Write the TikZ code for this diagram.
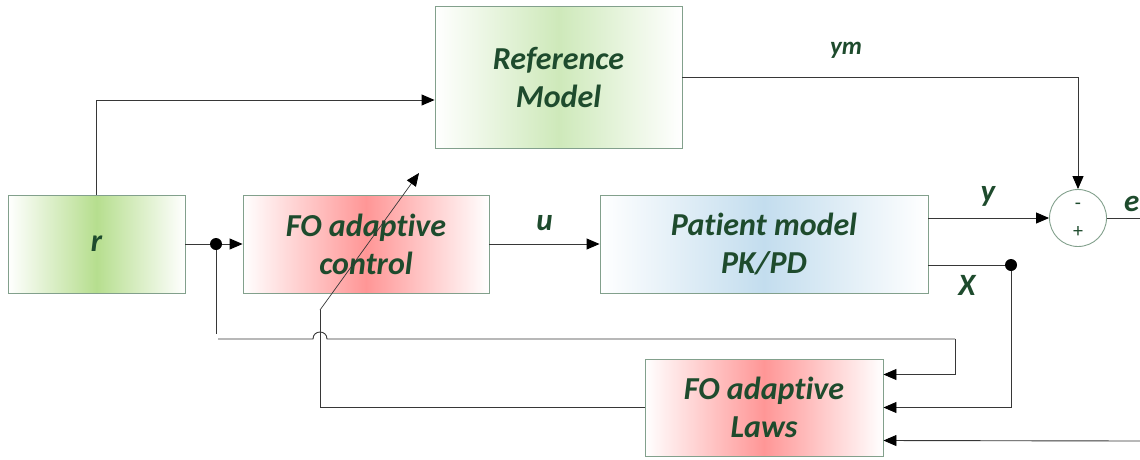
\documentclass[tikz,border=0pt]{standalone}
\usepackage{fontspec}
\setmainfont[Ligatures={NoCommon}]{Carlito}
\usetikzlibrary{arrows.meta,calc}
\definecolor{txtgreen}{RGB}{30,75,45}
\definecolor{boxedge}{RGB}{130,160,140}
\definecolor{wire}{RGB}{55,55,55}
\definecolor{gcore}{RGB}{182,222,142}
\definecolor{gref}{RGB}{206,233,186}
\definecolor{rcore}{RGB}{255,150,150}
\definecolor{bcore}{RGB}{195,221,238}
\tikzset{
  blk/.style={draw=boxedge, line width=0.9pt, inner sep=0pt, align=center,
    text=txtgreen, font=\fontsize{32}{38}\selectfont\bfseries\itshape,
    left color=white, right color=white},
  lbl/.style={text=txtgreen, font=\fontsize{31}{34}\selectfont\bfseries\itshape, inner sep=0pt},
  wireline/.style={draw=wire, line width=0.9pt},
  arr/.style={wireline, -{Triangle[length=13pt,width=11pt,color=black]}},
  junction/.style={circle, fill=black, minimum size=12pt, inner sep=0pt}
}
\begin{document}
\begin{tikzpicture}[x=1pt,y=-1pt]
\useasboundingbox (0,0) rectangle (1140,459);

% blocks
\node[blk, middle color=gref, minimum width=247pt, minimum height=142pt] (ref) at (558.5,77) {Reference\\Model};
\node[blk, middle color=gcore, minimum width=177pt, minimum height=98pt] (r) at (96.5,244) {r};
\node[blk, middle color=rcore, minimum width=246pt, minimum height=98pt] (fo) at (366,244) {FO adaptive\\control};
\node[blk, middle color=bcore, minimum width=328pt, minimum height=98pt] (pat) at (764,244) {Patient model\\PK/PD};
\node[blk, middle color=rcore, minimum width=238pt, minimum height=97pt] (laws) at (764,407.5) {FO adaptive\\Laws};
\node[draw=boxedge, line width=0.9pt, circle, minimum size=57pt, inner sep=0pt] (sum) at (1078,218) {};
\node[text=txtgreen, font=\fontsize{20}{20}\selectfont, inner sep=0pt] (minus) at (1078,206) {-};
\node[text=txtgreen, font=\fontsize{20}{20}\selectfont, inner sep=0pt] (plus) at (1078,232) {+};

% junctions and bends
\node[junction] (j1) at (216,244) {};
\node[junction] (j2) at (1011,265) {};
\coordinate (hopL) at (313,339);
\coordinate (hopR) at (327,339);
\coordinate (fbcorner) at (955,339);
\coordinate (adjbase) at (320,310);
\coordinate (adjtip) at (419,173);
\coordinate (eend) at (1140,218);
\coordinate (extin) at (1140,441);

% reference path
\draw[arr] (r.north) |- ($(ref.west)+(0,23)$);
\draw[arr] (ref.east) -| (sum.north);

% forward path
\draw[wireline] (r.east) -- (j1);
\draw[arr] (j1) -- (fo.west);
\draw[arr] (fo.east) -- (pat.west) node[lbl, midway, above=13pt] {u};
\draw[arr] ($(pat.east)+(0,-26)$) -- (sum.west);
\node[lbl] at (988,196) {y};
\draw[wireline] ($(pat.east)+(0,21)$) -- (j2);
\node[lbl] at (967,285) {X};
\draw[wireline] (sum.east) -- (eend);
\node[lbl, anchor=west] at (1124,204) {e};
\node[lbl, font=\fontsize{25}{28}\selectfont\bfseries\itshape] at (846,50) {ym};

% adaptation feedback
\draw[wireline] (j1) -- (216,334);
\draw[wireline] (218,339) -- (hopL) .. controls (313,329.7) and (327,329.7) .. (hopR) -- (fbcorner);
\draw[arr] (fbcorner) |- ($(laws.east)+(0,-33)$);
\draw[arr] (j2) |- (laws.east);
\draw[arr] (extin) -- ($(laws.east)+(0,33)$);
\draw[wireline] (laws.west) -| (adjbase);
\draw[arr, line width=0.7pt] (adjbase) -- (adjtip);
\end{tikzpicture}
\end{document}
